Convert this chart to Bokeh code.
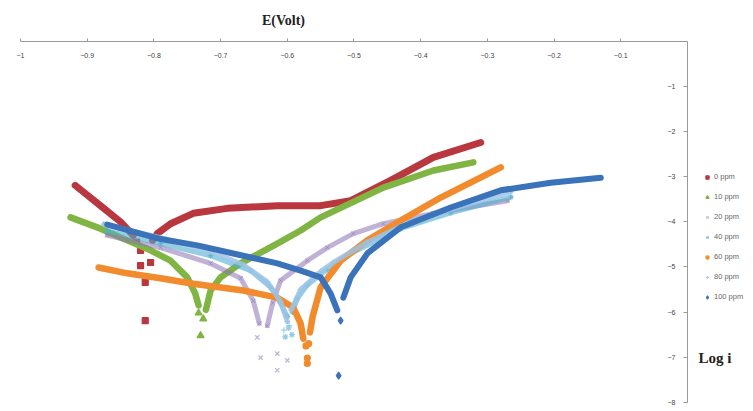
from bokeh.plotting import figure
from bokeh.models import LinearAxis, FixedTicker, Label, Legend, LegendItem, Range1d
from bokeh.embed import file_html
from bokeh.resources import INLINE

x_ticks = [-1.0, -0.9, -0.8, -0.7, -0.6, -0.5, -0.4, -0.3, -0.2, -0.1]
y_ticks = [-1, -2, -3, -4, -5, -6, -7, -8]

names = ["0 ppm", "10 ppm", "20 ppm", "40 ppm", "60 ppm", "80 ppm", "100 ppm"]

# 0 ppm
p0_cat_E = [-0.918, -0.880, -0.850, -0.831]
p0_cat_L = [-3.19, -3.64, -4.00, -4.30]
p0_ano_E = [-0.802, -0.795, -0.775, -0.741, -0.690, -0.615, -0.550, -0.505, -0.445, -0.381, -0.310]
p0_ano_L = [-4.41, -4.26, -4.04, -3.81, -3.70, -3.64, -3.64, -3.53, -3.08, -2.57, -2.24]
p0_str_E = [-0.826, -0.820, -0.805, -0.820, -0.813, -0.813]
p0_str_L = [-4.45, -4.63, -4.90, -4.97, -5.34, -6.19]

# 10 ppm
p10_cat_E = [-0.925, -0.880, -0.840, -0.805, -0.775, -0.750, -0.738, -0.733]
p10_cat_L = [-3.90, -4.15, -4.41, -4.63, -4.86, -5.23, -5.59, -5.85]
p10_ano_E = [-0.722, -0.715, -0.700, -0.670, -0.615, -0.580, -0.550, -0.456, -0.381, -0.321]
p10_ano_L = [-5.95, -5.52, -5.23, -4.92, -4.48, -4.19, -3.90, -3.24, -2.86, -2.68]
p10_str_E = [-0.733, -0.726, -0.730]
p10_str_L = [-6.02, -6.15, -6.52]

# 20 ppm
p20_cat_E = [-0.870, -0.790, -0.715, -0.670, -0.651, -0.642]
p20_cat_L = [-4.30, -4.57, -4.92, -5.25, -5.75, -6.25]
p20_ano_E = [-0.630, -0.622, -0.610, -0.570, -0.540, -0.501, -0.456, -0.381, -0.270]
p20_ano_L = [-6.30, -5.80, -5.30, -4.86, -4.57, -4.26, -4.04, -3.81, -3.53]
p20_str_E = [-0.645, -0.640, -0.615, -0.600, -0.615]
p20_str_L = [-6.56, -7.01, -6.92, -7.07, -7.29]

# 40 ppm
p40_cat_E = [-0.870, -0.790, -0.715, -0.655, -0.625, -0.610, -0.600]
p40_cat_L = [-4.20, -4.48, -4.75, -5.08, -5.45, -5.80, -6.10]
p40_ano_E = [-0.592, -0.585, -0.570, -0.540, -0.505, -0.430, -0.355, -0.265]
p40_ano_L = [-6.00, -5.70, -5.40, -5.05, -4.70, -4.15, -3.80, -3.45]
p40_str_E = [-0.598, -0.603, -0.593]
p40_str_L = [-6.35, -6.55, -6.50]

# 60 ppm
p60_cat_E = [-0.883, -0.840, -0.790, -0.741, -0.666, -0.615, -0.591, -0.580, -0.576]
p60_cat_L = [-5.01, -5.14, -5.25, -5.37, -5.52, -5.68, -5.90, -6.25, -6.59]
p60_ano_E = [-0.566, -0.562, -0.550, -0.520, -0.480, -0.430, -0.370, -0.280]
p60_ano_L = [-6.45, -6.10, -5.45, -4.86, -4.41, -3.97, -3.46, -2.79]
p60_str_E = [-0.572, -0.568, -0.570, -0.570]
p60_str_L = [-6.75, -6.70, -7.02, -7.14]

# 80 ppm
p80_cat_E = [-0.875, -0.790, -0.715, -0.666, -0.630, -0.610, -0.600]
p80_cat_L = [-4.05, -4.35, -4.65, -4.95, -5.33, -5.77, -6.21]
p80_ano_E = [-0.594, -0.580, -0.550, -0.531, -0.480, -0.430, -0.355, -0.265]
p80_ano_L = [-5.95, -5.50, -5.10, -4.90, -4.45, -4.10, -3.72, -3.33]
p80_str_E = [-0.605, -0.597]
p80_str_L = [-6.40, -6.30]

# 100 ppm
p100_cat_E = [-0.870, -0.790, -0.735, -0.681, -0.615, -0.580, -0.550, -0.535, -0.525]
p100_cat_L = [-4.06, -4.38, -4.52, -4.70, -4.92, -5.08, -5.23, -5.59, -5.96]
p100_ano_E = [-0.516, -0.505, -0.480, -0.430, -0.355, -0.280, -0.205, -0.130]
p100_ano_L = [-5.68, -5.23, -4.70, -4.12, -3.68, -3.30, -3.13, -3.02]
p100_str_E = [-0.520, -0.523]
p100_str_L = [-6.19, -7.41]

series = [
    (p0_cat_E, p0_cat_L, p0_ano_E, p0_ano_L, p0_str_E, p0_str_L),
    (p10_cat_E, p10_cat_L, p10_ano_E, p10_ano_L, p10_str_E, p10_str_L),
    (p20_cat_E, p20_cat_L, p20_ano_E, p20_ano_L, p20_str_E, p20_str_L),
    (p40_cat_E, p40_cat_L, p40_ano_E, p40_ano_L, p40_str_E, p40_str_L),
    (p60_cat_E, p60_cat_L, p60_ano_E, p60_ano_L, p60_str_E, p60_str_L),
    (p80_cat_E, p80_cat_L, p80_ano_E, p80_ano_L, p80_str_E, p80_str_L),
    (p100_cat_E, p100_cat_L, p100_ano_E, p100_ano_L, p100_str_E, p100_str_L),
]

colors = ["#B9373E", "#80B443", "#8C72B5", "#4FADCF", "#F18B2C", "#9BC3E6", "#3B73BA"]
markers = ["square", "triangle", "x", "asterisk", "circle", "cross", "diamond"]
widths = [7, 6.5, 5, 5, 6.5, 5, 6]
alphas = [1.0, 1.0, 0.55, 0.6, 1.0, 0.85, 1.0]
msizes = [6, 7, 6, 6, 6, 6, 7]
line_msizes = [4, 4, 6, 6, 4, 6, 4]

W, H = 753, 411
p = figure(width=W, height=H,
           x_range=Range1d(-1.030, 0.099), y_range=Range1d(-8.204, 0.909),
           x_axis_location=None, y_axis_location=None,
           output_backend="svg", toolbar_location=None,
           min_border_left=0, min_border_right=0,
           min_border_top=0, min_border_bottom=0)
p.outline_line_color = None
p.xgrid.visible = False
p.ygrid.visible = False
p.background_fill_color = "white"
p.border_fill_color = "white"

xaxis = LinearAxis(ticker=FixedTicker(ticks=x_ticks), fixed_location=0, bounds=(-1, 0))
xaxis.axis_line_color = "#9a9a9a"
xaxis.major_tick_line_color = "#9a9a9a"
xaxis.major_tick_in = 3
xaxis.major_tick_out = 0
xaxis.minor_tick_line_color = None
xaxis.major_label_standoff = 12
xaxis.major_label_text_font = "Liberation Sans"
xaxis.major_label_text_font_size = "7px"
xaxis.major_label_text_color = "#444444"
p.add_layout(xaxis, "below")

yaxis = LinearAxis(ticker=FixedTicker(ticks=y_ticks), fixed_location=0, bounds=(-8, 0))
yaxis.axis_line_color = "#9a9a9a"
yaxis.major_tick_line_color = "#9a9a9a"
yaxis.major_tick_in = 0
yaxis.major_tick_out = 4
yaxis.minor_tick_line_color = None
yaxis.major_label_standoff = 8
yaxis.major_label_text_font = "Liberation Sans"
yaxis.major_label_text_font_size = "7px"
yaxis.major_label_text_color = "#444444"
p.add_layout(yaxis, "left")

items = []
for i, (cE, cL, aE, aL, sE, sL) in enumerate(series):
    c = colors[i]
    for E, L in ((cE, cL), (aE, aL)):
        p.line(E, L, line_color=c, line_width=widths[i], line_alpha=alphas[i],
               line_cap="round", line_join="round")
        p.scatter(E, L, marker=markers[i], size=line_msizes[i], color=c, alpha=alphas[i])
    r = p.scatter(sE, sL, marker=markers[i], size=msizes[i], color=c,
                  line_width=1.2, alpha=alphas[i])
    items.append(LegendItem(label=names[i], renderers=[r]))

legend = Legend(items=items, location=(703, 110))
legend.glyph_width = 8
legend.glyph_height = 8
legend.label_height = 8
legend.spacing = 11
legend.padding = 0
legend.margin = 0
legend.label_standoff = 3
legend.label_text_font = "Liberation Sans"
legend.label_text_font_size = "7.5px"
legend.label_text_color = "#666666"
legend.border_line_color = None
legend.background_fill_alpha = 0
p.add_layout(legend, "center")

p.add_layout(Label(x=-0.6057, y=0.466, text="E(Volt)", text_align="center",
                   text_baseline="middle", text_font="Liberation Serif",
                   text_font_style="bold", text_font_size="14px", text_color="#222222"))
p.add_layout(Label(x=0.0165, y=-7.01, text="Log i", text_align="left",
                   text_baseline="middle", text_font="Liberation Serif",
                   text_font_style="bold", text_font_size="15px", text_color="#222222"))

open("out.html", "w").write(file_html(p, INLINE))
